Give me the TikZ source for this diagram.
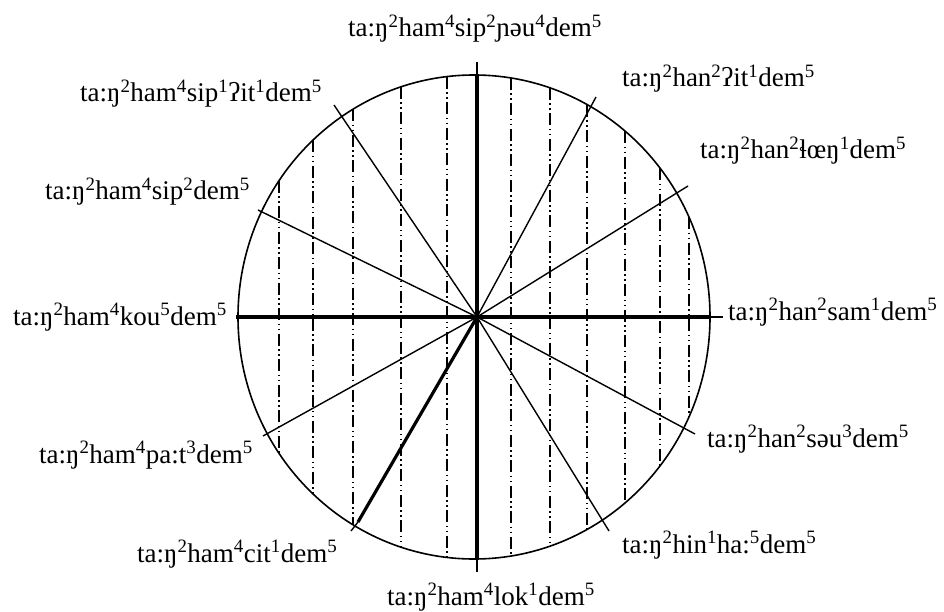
\documentclass[tikz,border=0pt]{standalone}
\usepackage{fontspec}
\setmainfont{Liberation Serif}
\newcommand\su[1]{\textsuperscript{#1}}
\begin{document}
\begin{tikzpicture}[x=1pt,y=-1pt,
  lbl/.style={font=\fontsize{27}{31}\selectfont, inner sep=0pt},
  spoke/.style={line width=1.4pt},
  heavy/.style={line width=3.2pt},
  rim/.style={line width=1.6pt},
  vline/.style={line width=1.3pt, dash pattern=on 12pt off 3.5pt on 1.5pt off 3.5pt on 1.5pt off 3.5pt}]
\useasboundingbox (0,0) rectangle (944,612);
% vertical dash-dot lines
\foreach \vx in {279,313,353,401,447,511,550,587,625,660,689}{
  \pgfmathsetmacro\hh{242*sqrt(1-((\vx-474)/236)^2)}
  \draw[vline] (\vx,{317-\hh}) -- (\vx,{317+\hh});
}
% circle
\draw[rim] (474,317) ellipse [x radius=236, y radius=242];
% centre and spoke ends
\coordinate (C) at (477,317);
\coordinate (n0) at (477,74);  \coordinate (n1) at (477,62);
\coordinate (s0) at (477,559); \coordinate (s1) at (477,572);
\coordinate (w0) at (236,317);
\coordinate (e0) at (709,317); \coordinate (e1) at (723,317);
\coordinate (a240) at (358,522); \coordinate (b240) at (351,531);
\coordinate (a60) at (596,97);
\coordinate (a30) at (688,186);
\coordinate (a330) at (695,434);
\coordinate (a300) at (609,531);
\coordinate (a210) at (263,436);
\coordinate (a150) at (258,210);
\coordinate (a120) at (334,105);
% thin spokes
\foreach \p in {a60,a30,a330,a300,a210,a150,a120}{
  \draw[spoke] (C) -- (\p);
}
% heavy spokes
\draw[heavy] (n0) -- (s0);
\draw[heavy] (w0) -- (e0);
\draw[heavy] (C) -- (a240);
\draw[spoke] (n0) -- (n1);
\draw[spoke] (s0) -- (s1);
\draw[spoke] (e0) -- (e1);
\draw[spoke] (a240) -- (b240);
% labels
\node[lbl, anchor=base] (l1) at (475,37) {ta:ŋ\su{2}ham\su{4}sip\su{2}ɲəu\su{4}dem\su{5}};
\node[lbl, anchor=base west] (l2) at (80,102) {ta:ŋ\su{2}ham\su{4}sip\su{1}ʔit\su{1}dem\su{5}};
\node[lbl, anchor=base west] (l3) at (45,200) {ta:ŋ\su{2}ham\su{4}sip\su{2}dem\su{5}};
\node[lbl, anchor=base west] (l4) at (13,325) {ta:ŋ\su{2}ham\su{4}kou\su{5}dem\su{5}};
\node[lbl, anchor=base west] (l5) at (39,463) {ta:ŋ\su{2}ham\su{4}pa:t\su{3}dem\su{5}};
\node[lbl, anchor=base west] (l6) at (137,562) {ta:ŋ\su{2}ham\su{4}cit\su{1}dem\su{5}};
\node[lbl, anchor=base] (l7) at (491,605) {ta:ŋ\su{2}ham\su{4}lok\su{1}dem\su{5}};
\node[lbl, anchor=base west] (l8) at (622,553) {ta:ŋ\su{2}hin\su{1}ha:\su{5}dem\su{5}};
\node[lbl, anchor=base west] (l9) at (707,447) {ta:ŋ\su{2}han\su{2}səu\su{3}dem\su{5}};
\node[lbl, anchor=base west] (l10) at (728,320) {ta:ŋ\su{2}han\su{2}sam\su{1}dem\su{5}};
\node[lbl, anchor=base west] (l11) at (700,159) {ta:ŋ\su{2}han\su{2}ɬœŋ\su{1}dem\su{5}};
\node[lbl, anchor=base west] (l12) at (622,87) {ta:ŋ\su{2}han\su{2}ʔit\su{1}dem\su{5}};
\end{tikzpicture}
\end{document}
